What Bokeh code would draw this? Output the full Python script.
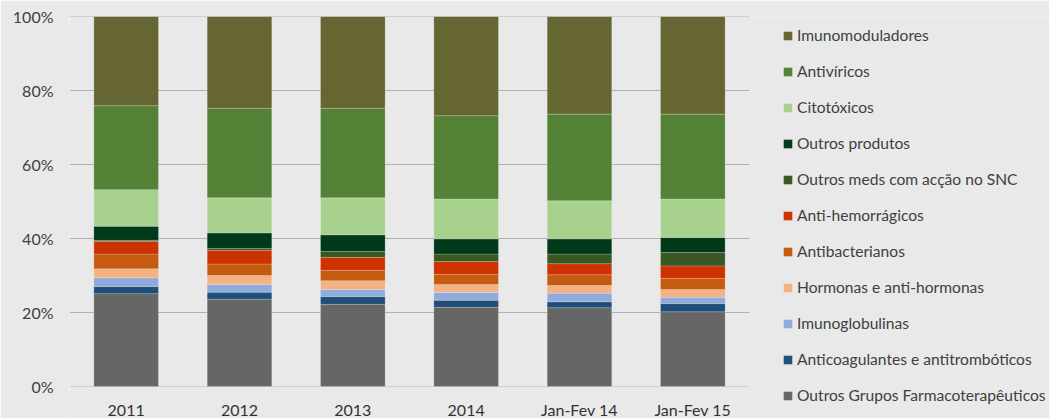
from bokeh.plotting import figure
from bokeh.models import (ColumnDataSource, Legend, LegendItem, Range1d,
                          FixedTicker, NumeralTickFormatter)
from bokeh.embed import file_html
from bokeh.resources import INLINE

categories = ["2011", "2012", "2013", "2014", "Jan-Fev 14", "Jan-Fev 15"]

# shares in % (bottom of stack first)
outros_grupos = [25.1, 23.6, 22.2, 21.4, 21.3, 20.2]
anticoagulantes = [1.9, 1.9, 2.1, 1.9, 1.6, 2.2]
imunoglobulinas = [2.4, 2.1, 1.9, 2.1, 2.3, 1.7]
hormonas = [2.4, 2.4, 2.4, 2.2, 2.1, 2.1]
antibacterianos = [4.0, 3.1, 2.8, 2.7, 2.9, 3.0]
anti_hemorragicos = [3.4, 3.7, 3.5, 3.5, 3.0, 3.4]
outros_meds_snc = [0.3, 0.5, 1.6, 2.0, 2.6, 3.6]
outros_produtos = [3.8, 4.2, 4.5, 4.1, 4.1, 4.1]
citotoxicos = [9.9, 9.5, 10.0, 10.8, 10.3, 10.4]
antiviricos = [22.7, 24.2, 24.2, 22.5, 23.4, 22.9]
imunomoduladores = [24.1, 24.8, 24.8, 26.8, 26.4, 26.4]

y_ticks = [0.0, 0.2, 0.4, 0.6, 0.8, 1.0]

series_names = [
    "Outros Grupos Farmacoterapêuticos",
    "Anticoagulantes e antitrombóticos",
    "Imunoglobulinas",
    "Hormonas e anti-hormonas",
    "Antibacterianos",
    "Anti-hemorrágicos",
    "Outros meds com acção no SNC",
    "Outros produtos",
    "Citotóxicos",
    "Antivíricos",
    "Imunomoduladores",
]
series_values = [
    outros_grupos, anticoagulantes, imunoglobulinas, hormonas, antibacterianos,
    anti_hemorragicos, outros_meds_snc, outros_produtos, citotoxicos,
    antiviricos, imunomoduladores,
]
colors = [
    "#666666", "#1F4E79", "#8FAADC", "#F4B183", "#C55A11",
    "#CC3300", "#385723", "#003A1B", "#A9D18E", "#538135", "#666633",
]

n = len(categories)
xs = [i + 0.5 for i in range(n)]
keys = ["s%d" % i for i in range(len(series_names))]
data = {"x": xs}
for k, vals in zip(keys, series_values):
    data[k] = [v / 100.0 for v in vals]
source = ColumnDataSource(data)

# layout constants (pixels)
W, H = 1049, 418
FRAME_LEFT = 69
FRAME_TOP = 16
ZERO_Y = 386
CAT_PX = 113.33
PLOT_PX = ZERO_Y - FRAME_TOP

FONT = "Lato"
BG = "#e9e9e9"

p = figure(
    x_range=Range1d(0, (W - FRAME_LEFT) / CAT_PX),
    y_range=Range1d(-(H - ZERO_Y) / PLOT_PX, 1),
    width=W, height=H,
    output_backend="svg", toolbar_location=None,
    min_border_left=FRAME_LEFT, min_border_right=0,
    min_border_top=FRAME_TOP, min_border_bottom=0,
)
p.background_fill_color = BG
p.border_fill_color = BG
p.outline_line_color = None
p.xgrid.grid_line_color = None
p.ygrid.grid_line_color = None

# horizontal gridlines across the category area
grid_y = [t for t in y_ticks if t > 0]
p.segment(x0=[0] * len(grid_y), x1=[n] * len(grid_y), y0=grid_y, y1=grid_y,
          line_color="#b0b0b0", line_width=1)
p.segment(x0=[0], x1=[n], y0=[0], y1=[0], line_color="#d0d0d0", line_width=1)

renderers = p.vbar_stack(keys, x="x", width=0.57, color=colors, source=source,
                         line_color="#ffffff", line_alpha=0.2, line_width=1)

# y axis
p.yaxis.ticker = FixedTicker(ticks=y_ticks)
p.yaxis.formatter = NumeralTickFormatter(format="0%")
p.yaxis.axis_line_color = None
p.yaxis.major_tick_line_color = None
p.yaxis.minor_tick_line_color = None
p.yaxis.major_label_standoff = 10
p.yaxis.major_label_text_font = FONT
p.yaxis.major_label_text_font_size = "16px"
p.yaxis.major_label_text_color = "#404040"

# x axis at y = 0
p.xaxis.fixed_location = 0
p.xaxis.ticker = FixedTicker(ticks=xs)
p.xaxis.major_label_overrides = {x: c for x, c in zip(xs, categories)}
p.xaxis.axis_line_color = None
p.xaxis.major_tick_line_color = None
p.xaxis.minor_tick_line_color = None
p.xaxis.major_label_standoff = 7
p.xaxis.major_label_text_font = FONT
p.xaxis.major_label_text_font_size = "16px"
p.xaxis.major_label_text_color = "#333333"

# legend (top entry = top of stack)
items = [LegendItem(label=nm, renderers=[r])
         for nm, r in zip(series_names, renderers)]
items = items[::-1]
legend = Legend(
    items=items, location=(782 - FRAME_LEFT, 13), orientation="vertical",
    glyph_width=11, glyph_height=11, label_height=20, spacing=16,
    label_standoff=4, padding=0, margin=0,
    label_text_font=FONT, label_text_font_size="15.6px",
    label_text_color="#404040",
    border_line_color=None, background_fill_alpha=0,
)
p.add_layout(legend, "center")

open("out.html", "w").write(file_html(p, INLINE))
